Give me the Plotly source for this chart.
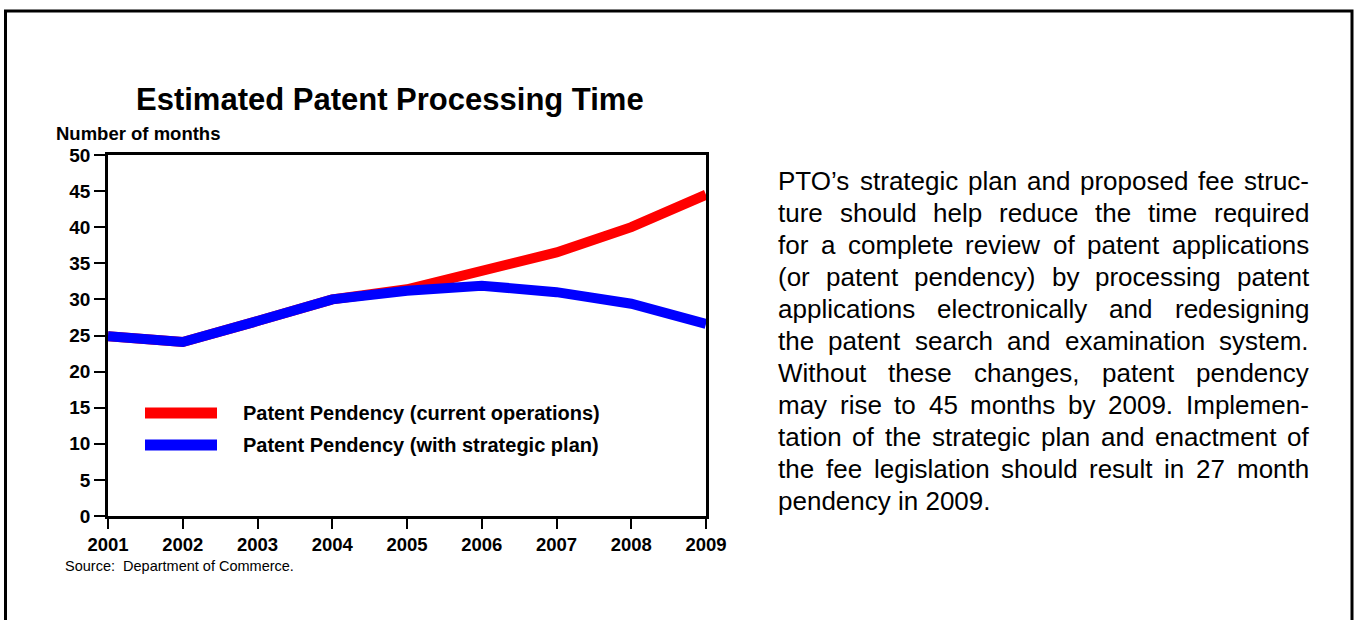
import plotly.graph_objects as go

FIG_W, FIG_H = 1356, 620

years = [2001, 2002, 2003, 2004, 2005, 2006, 2007, 2008, 2009]
current_ops = [24.9, 24.1, 27.0, 30.0, 31.4, 33.8, 36.5, 40.0, 44.5]
strategic_plan = [24.9, 24.1, 27.0, 30.0, 31.2, 31.9, 31.0, 29.4, 26.6]
y_ticks = [0, 5, 10, 15, 20, 25, 30, 35, 40, 45, 50]

series_names = ["Patent Pendency (current operations)",
                "Patent Pendency (with strategic plan)"]
series_colors = ["#ff0000", "#0000ff"]

title_text = "Estimated Patent Processing Time"
yaxis_label = "Number of months"
source_text = "Source:  Department of Commerce."

paragraph_lines = [
    "PTO\u2019s strategic plan and proposed fee struc-",
    "ture should help reduce the time required",
    "for a complete review of patent applications",
    "(or patent pendency) by processing patent",
    "applications electronically and redesigning",
    "the patent search and examination system.",
    "Without these changes, patent pendency",
    "may rise to 45 months by 2009.  Implemen-",
    "tation of the strategic plan and enactment of",
    "the fee legislation should result in 27 month",
    "pendency in 2009.",
]

FONT = "Liberation Sans, Arial, Helvetica, sans-serif"

# Arial (regular) advance widths per 1000 em, used to justify the paragraph
AW = {' ': 278, '\u2019': 222, "'": 191, '(': 333, ')': 333, ',': 278, '-': 333,
      '.': 278, ':': 278}
for d in "0123456789":
    AW[d] = 556
AW.update(dict(zip("ABCDEFGHIJKLMNOPQRSTUVWXYZ",
                   [667, 667, 722, 722, 667, 611, 778, 722, 278, 500, 667, 556, 833,
                    722, 778, 667, 778, 722, 667, 611, 722, 667, 944, 667, 667, 611])))
AW.update(dict(zip("abcdefghijklmnopqrstuvwxyz",
                   [556, 556, 500, 556, 556, 278, 556, 556, 222, 222, 500, 222, 833,
                    556, 556, 556, 556, 333, 500, 278, 556, 500, 722, 500, 500, 500])))


def text_w(s, size):
    return sum(AW.get(c, 556) for c in s) * size / 1000.0


def px(x):
    return x / FIG_W


def py(y):
    return 1 - y / FIG_H


fig = go.Figure()
for name, vals, col in [(series_names[0], current_ops, series_colors[0]),
                        (series_names[1], strategic_plan, series_colors[1])]:
    fig.add_trace(go.Scatter(x=years, y=vals, mode="lines", name=name,
                             line=dict(color=col, width=10), showlegend=False,
                             hoverinfo="x+y+name"))

annotations = []
shapes = []

annotations.append(dict(text=title_text, x=px(390), y=py(100), xref="paper", yref="paper",
                        xanchor="center", yanchor="middle", showarrow=False,
                        font=dict(family=FONT, size=31, color="black", weight="bold")))
annotations.append(dict(text=yaxis_label, x=px(54), y=py(134), xref="paper", yref="paper",
                        xanchor="left", yanchor="middle", showarrow=False,
                        font=dict(family=FONT, size=18.5, color="black", weight="bold")))
annotations.append(dict(text=source_text, x=px(63), y=py(566), xref="paper", yref="paper",
                        xanchor="left", yanchor="middle", showarrow=False,
                        font=dict(family=FONT, size=14.5, color="black")))

for i, (name, col) in enumerate(zip(series_names, series_colors)):
    yc = 413 + 32 * i
    shapes.append(dict(type="line", xref="paper", yref="paper",
                       x0=px(145), x1=px(217), y0=py(yc), y1=py(yc),
                       line=dict(color=col, width=11)))
    annotations.append(dict(text=name, x=px(241), y=py(yc), xref="paper", yref="paper",
                            xanchor="left", yanchor="middle", showarrow=False,
                            font=dict(family=FONT, size=20, color="black", weight="bold")))

PSIZE = 26
left, right = 777, 1308
for i, line in enumerate(paragraph_lines):
    yc = 181 + 32 * i
    words = line.split()
    last = (i == len(paragraph_lines) - 1)
    if last or len(words) == 1:
        annotations.append(dict(text=line, x=px(left - 1), y=py(yc), xref="paper", yref="paper",
                                xanchor="left", yanchor="middle", showarrow=False,
                                font=dict(family=FONT, size=PSIZE, color="black")))
        continue
    widths = [text_w(w, PSIZE) for w in words]
    gap = (right - left - sum(widths)) / (len(words) - 1)
    xpos = left
    for w, ww in zip(words, widths):
        annotations.append(dict(text=w, x=px(xpos - 1), y=py(yc), xref="paper", yref="paper",
                                xanchor="left", yanchor="middle", showarrow=False,
                                font=dict(family=FONT, size=PSIZE, color="black")))
        xpos += ww + gap

# outer page frame
shapes.append(dict(type="rect", xref="paper", yref="paper",
                   x0=px(5.5), x1=px(1352), y0=py(640), y1=py(11),
                   line=dict(color="black", width=3), fillcolor="rgba(0,0,0,0)", layer="below"))

fig.update_layout(
    width=FIG_W, height=FIG_H,
    margin=dict(l=0, r=0, t=0, b=0, autoexpand=False),
    paper_bgcolor="white", plot_bgcolor="white",
    annotations=annotations, shapes=shapes,
    xaxis=dict(domain=[px(108), px(706)], range=[2001, 2009], tickvals=years,
               automargin=False,
               ticks="outside", ticklen=10, tickwidth=2, tickcolor="black",
               showline=True, linecolor="black", linewidth=2.5, mirror=True,
               showgrid=False, zeroline=False,
               tickfont=dict(family=FONT, size=18.5, color="black", weight="bold")),
    yaxis=dict(domain=[py(516), py(155)], range=[0, 50], tickvals=y_ticks,
               automargin=False,
               ticks="outside", ticklen=11, tickwidth=2, tickcolor="black",
               showline=True, linecolor="black", linewidth=2.5, mirror=True,
               showgrid=False, zeroline=False,
               tickfont=dict(family=FONT, size=19, color="black", weight="bold")),
    showlegend=False,
)

fig.write_html(
    "out.html",
    config={"displayModeBar": False},
    post_script="document.body.style.margin='0';document.body.style.overflow='hidden';",
)
